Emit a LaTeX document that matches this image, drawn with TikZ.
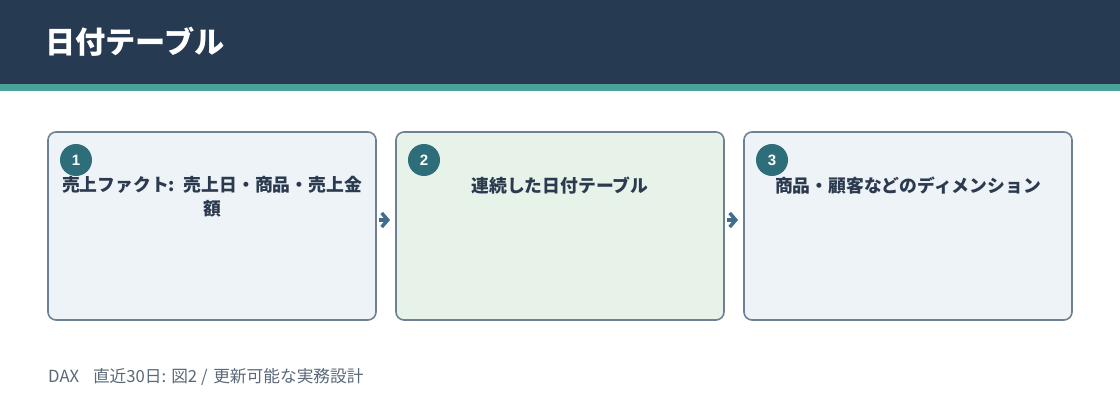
\documentclass[tikz,border=0pt]{standalone}
\usepackage{fontspec}
\setmainfont{Noto Sans CJK JP}
\newfontfamily\lat{Liberation Sans}
\usetikzlibrary{arrows.meta}
\definecolor{hdr}{HTML}{263A52}
\definecolor{stripe}{HTML}{4AA39A}
\definecolor{boxblue}{HTML}{EEF3F8}
\definecolor{boxgreen}{HTML}{E7F2E9}
\definecolor{boxline}{HTML}{6E8194}
\definecolor{badge}{HTML}{2E6E7A}
\definecolor{txt}{HTML}{2B3A4E}
\definecolor{foot}{HTML}{5A6878}
\definecolor{arr}{HTML}{3E6E8C}
\tikzset{
  stepbox/.style={draw=boxline, line width=1.6pt, rounded corners=8pt, minimum width=328pt, minimum height=188pt, anchor=north west, inner sep=0pt, outer sep=0pt},
  badgec/.style={circle, fill=badge, minimum size=32pt, inner sep=0pt, text=white, font=\lat\bfseries\fontsize{15}{18}\selectfont},
  boxtext/.style={text=txt, font=\bfseries\fontsize{17.8}{23.5}\selectfont, align=center, text width=320pt, anchor=north},
  flow/.style={arr, line width=3.5pt, -{Straight Barb[length=6pt,width=14pt,line width=3.5pt]}, shorten <=2.5pt, shorten >=6pt}
}
\begin{document}
\begin{tikzpicture}[x=1pt,y=-1pt]
\useasboundingbox (0,0) rectangle (1120,420);
\fill[hdr] (0,0) rectangle (1120,84);
\fill[stripe] (0,84) rectangle (1120,91);
\node[anchor=west, text=white, font=\bfseries\fontsize{30.2}{32}\selectfont, inner sep=0pt] (title) at (45,42) {日付テーブル};

\node[stepbox, fill=boxblue] (b1) at (48,132) {};
\node[stepbox, fill=boxgreen] (b2) at (396,132) {};
\node[stepbox, fill=boxblue] (b3) at (744,132) {};

\node[badgec] (n1) at (76,160) {1};
\node[badgec] (n2) at (424,160) {2};
\node[badgec] (n3) at (772,160) {3};

\node[boxtext] (t1) at (212,173) {売上ファクト: 売上日・商品・売上金\\額};
\node[boxtext] (t2) at (560,173) {連続した日付テーブル};
\node[boxtext] (t3) at (908,173) {商品・顧客などのディメンション};

\draw[flow] ([yshift=6pt]b1.east) -- ([yshift=6pt]b2.west);
\draw[flow] ([yshift=6pt]b2.east) -- ([yshift=6pt]b3.west);

\node[anchor=west, text=foot, font=\fontsize{16.7}{20}\selectfont, inner sep=0pt] (footer) at (48,377) {DAX \hspace{10pt}直近30日: 図2 / \hspace{2pt}更新可能な実務設計};
\end{tikzpicture}
\end{document}
